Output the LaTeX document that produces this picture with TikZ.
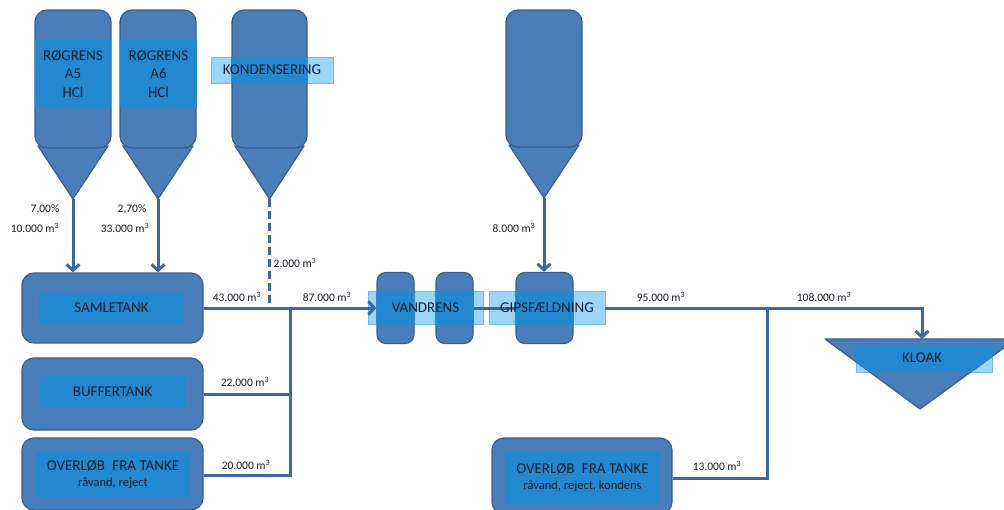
\documentclass[tikz,border=0pt]{standalone}
\usepackage{fontspec}
\setmainfont{Carlito}
\usetikzlibrary{arrows.meta}

\definecolor{tankfill}{RGB}{74,126,187}
\definecolor{tankline}{RGB}{56,93,140}
\definecolor{labelfill}{RGB}{34,136,208}
\definecolor{pale}{RGB}{155,214,246}
\definecolor{paleline}{RGB}{115,185,232}
\definecolor{pipe}{RGB}{58,104,164}
\definecolor{ink}{RGB}{22,28,42}

% smaller second line inside the overflow boxes
\newcommand{\smallline}{\fontsize{12.5}{14}\selectfont}

\tikzset{
  vessel/.style={fill=tankfill, draw=tankline, line width=1.2pt, rounded corners=12pt, rectangle, inner sep=0pt},
  column/.style={vessel, rounded corners=9pt},
  cone/.style={fill=tankfill, draw=tankline, line width=1.2pt, line join=round},
  tag/.style={fill=labelfill, inner sep=0pt, text=ink, align=center, font=\fontsize{15}{18.5}\selectfont},
  paletag/.style={fill=pale, draw=paleline, line width=0.8pt, inner sep=0pt},
  caption/.style={text=ink, inner sep=0pt, font=\fontsize{15}{18}\selectfont},
  pipeline/.style={draw=pipe, line width=3pt},
  feed/.style={pipeline, -{Straight Barb[length=6pt,width=13pt]}},
  qty/.style={text=ink, inner sep=0pt, font=\fontsize{11.5}{13}\selectfont}
}

\begin{document}
\begin{tikzpicture}[x=1pt,y=-1pt]
\useasboundingbox (0,0) rectangle (1004,509);

% ---- silo cones
\draw[cone] (38,146) -- (108,146) -- (73,199) -- cycle;
\draw[cone] (123,146) -- (193,146) -- (158,199) -- cycle;
\draw[cone] (235,146) -- (304,146) -- (269.5,199) -- cycle;
\draw[cone] (509,145) -- (579,145) -- (544,198) -- cycle;
\coordinate (a5tip) at (73,199);
\coordinate (a6tip) at (158,199);
\coordinate (kotip) at (269.5,199);
\coordinate (gstip) at (544,198);

% ---- pale label boxes (behind the vessels)
\node[paletag, minimum width=122pt, minimum height=26pt] (kotag) at (272,70) {};
\node[paletag, minimum width=115pt, minimum height=33pt] (vtag) at (425.5,308) {};
\node[paletag, minimum width=116pt, minimum height=33pt] (gtag) at (547,308) {};
\node[paletag, minimum width=136pt, minimum height=27pt] (ktag) at (924,358.5) {};

% ---- silo bodies
\node[vessel, minimum width=76pt, minimum height=138pt] (a5) at (73,79) {};
\node[vessel, minimum width=76pt, minimum height=138pt] (a6) at (158,79) {};
\node[vessel, minimum width=75pt, minimum height=138pt] (ko) at (269.5,79) {};
\node[vessel, minimum width=76pt, minimum height=137pt] (gs) at (544,78.5) {};

% ---- tanks
\node[vessel, minimum width=181pt, minimum height=70pt] (samle) at (112.5,308) {};
\node[vessel, minimum width=181pt, minimum height=72pt] (buffer) at (112.5,394) {};
\node[vessel, minimum width=181pt, minimum height=72pt] (ovl) at (112.5,474) {};
\node[vessel, minimum width=180pt, minimum height=76pt] (ovr) at (582,476) {};

% ---- treatment columns
\node[column, minimum width=37pt, minimum height=71pt] (v1) at (395.5,308) {};
\node[column, minimum width=37pt, minimum height=71pt] (v2) at (454.5,308) {};
\node[column, minimum width=57pt, minimum height=71pt] (gips) at (544.5,308) {};

% ---- sewer
\draw[cone] (825,339) -- (1016,339) -- (920,409) -- cycle;
\coordinate (kloaktop) at (922,339);

% ---- label parts lying over the vessels
\begin{scope}
  \clip[rounded corners=12pt] (ko.south west) rectangle (ko.north east);
  \fill[labelfill] (kotag.south west) rectangle (kotag.north east);
\end{scope}
\begin{scope}
  \clip[rounded corners=9pt] (v1.south west) rectangle (v1.north east);
  \fill[labelfill] (vtag.south west) rectangle (vtag.north east);
\end{scope}
\begin{scope}
  \clip[rounded corners=9pt] (v2.south west) rectangle (v2.north east);
  \fill[labelfill] (vtag.south west) rectangle (vtag.north east);
\end{scope}
\begin{scope}
  \clip[rounded corners=9pt] (gips.south west) rectangle (gips.north east);
  \fill[labelfill] (gtag.south west) rectangle (gtag.north east);
\end{scope}
\begin{scope}
  \clip (825,339) -- (1016,339) -- (920,409) -- cycle;
  \fill[labelfill] (ktag.south west) rectangle (ktag.north east);
\end{scope}

% ---- labels inside vessels
\node[tag, minimum width=76pt, minimum height=68pt] (a5tag) at (73,74) {RØGRENS\\A5\\HCl};
\node[tag, minimum width=77pt, minimum height=68pt] (a6tag) at (158.5,74) {RØGRENS\\A6\\HCl};
\node[tag, minimum width=145pt, minimum height=31pt] (samletag) at (111.5,308) {SAMLETANK};
\node[tag, minimum width=145pt, minimum height=32pt] (buffertag) at (112.5,392) {BUFFERTANK};
\node[tag, minimum width=154pt, minimum height=45pt, font=\fontsize{15}{16}\selectfont] (ovltag) at (113,474.5)
  {OVERLØB\enspace FRA TANKE\\{\smallline råvand, reject}};
\node[tag, minimum width=155pt, minimum height=52pt, font=\fontsize{15}{16}\selectfont] (ovrtag) at (582.5,478)
  {OVERLØB\enspace FRA TANKE\\{\smallline råvand, reject, kondens}};

% ---- pipes
\coordinate (j1) at (290,308);
\coordinate (j2) at (767,308);
\draw[feed] (a5tip) -- (a5tip |- samle.north);
\draw[feed] (a6tip) -- (a6tip |- samle.north);
\draw[pipeline, dash pattern=on 8pt off 4pt] (kotip) -- (kotip |- j1);
\draw[feed] (gstip) -- (gstip |- gips.north);
\draw[feed] (samle.east) -- (v1.west);
\draw[pipeline] (buffer.east) -| (j1);
\draw[pipeline] (ovl.east |- 0,475) -| (j1);
\draw[pipeline] (v2.east) -- (gips.west);
\draw[feed] (gtag.east) -| (kloaktop);
\draw[pipeline] (ovr.east |- 0,478) -| (j2);

% ---- labels on the pale boxes
\node[caption] (kotext) at (kotag) {KONDENSERING};
\node[caption] (vtext) at (vtag) {VANDRENS};
\node[caption] (gtext) at (gtag) {GIPSFÆLDNING};
\node[caption] (ktext) at (922,358) {KLOAK};

% ---- quantities
\node[qty] (p5) at (45,209) {7,00\%};
\node[qty] (m5) at (35,228) {10.000 m\textsuperscript{3}};
\node[qty] (p6) at (132,209) {2,70\%};
\node[qty] (m6) at (125,228) {33.000 m\textsuperscript{3}};
\node[qty] (mko) at (295,263) {2.000 m\textsuperscript{3}};
\node[qty] (msa) at (237,297) {43.000 m\textsuperscript{3}};
\node[qty] (mva) at (327,297) {87.000 m\textsuperscript{3}};
\node[qty] (mbu) at (245,382) {22.000 m\textsuperscript{3}};
\node[qty] (mol) at (246,465) {20.000 m\textsuperscript{3}};
\node[qty] (mgs) at (514,228) {8.000 m\textsuperscript{3}};
\node[qty] (mgi) at (661,297) {95.000 m\textsuperscript{3}};
\node[qty] (mkl) at (824,297) {108.000 m\textsuperscript{3}};
\node[qty] (mor) at (717,466) {13.000 m\textsuperscript{3}};
\end{tikzpicture}
\end{document}
